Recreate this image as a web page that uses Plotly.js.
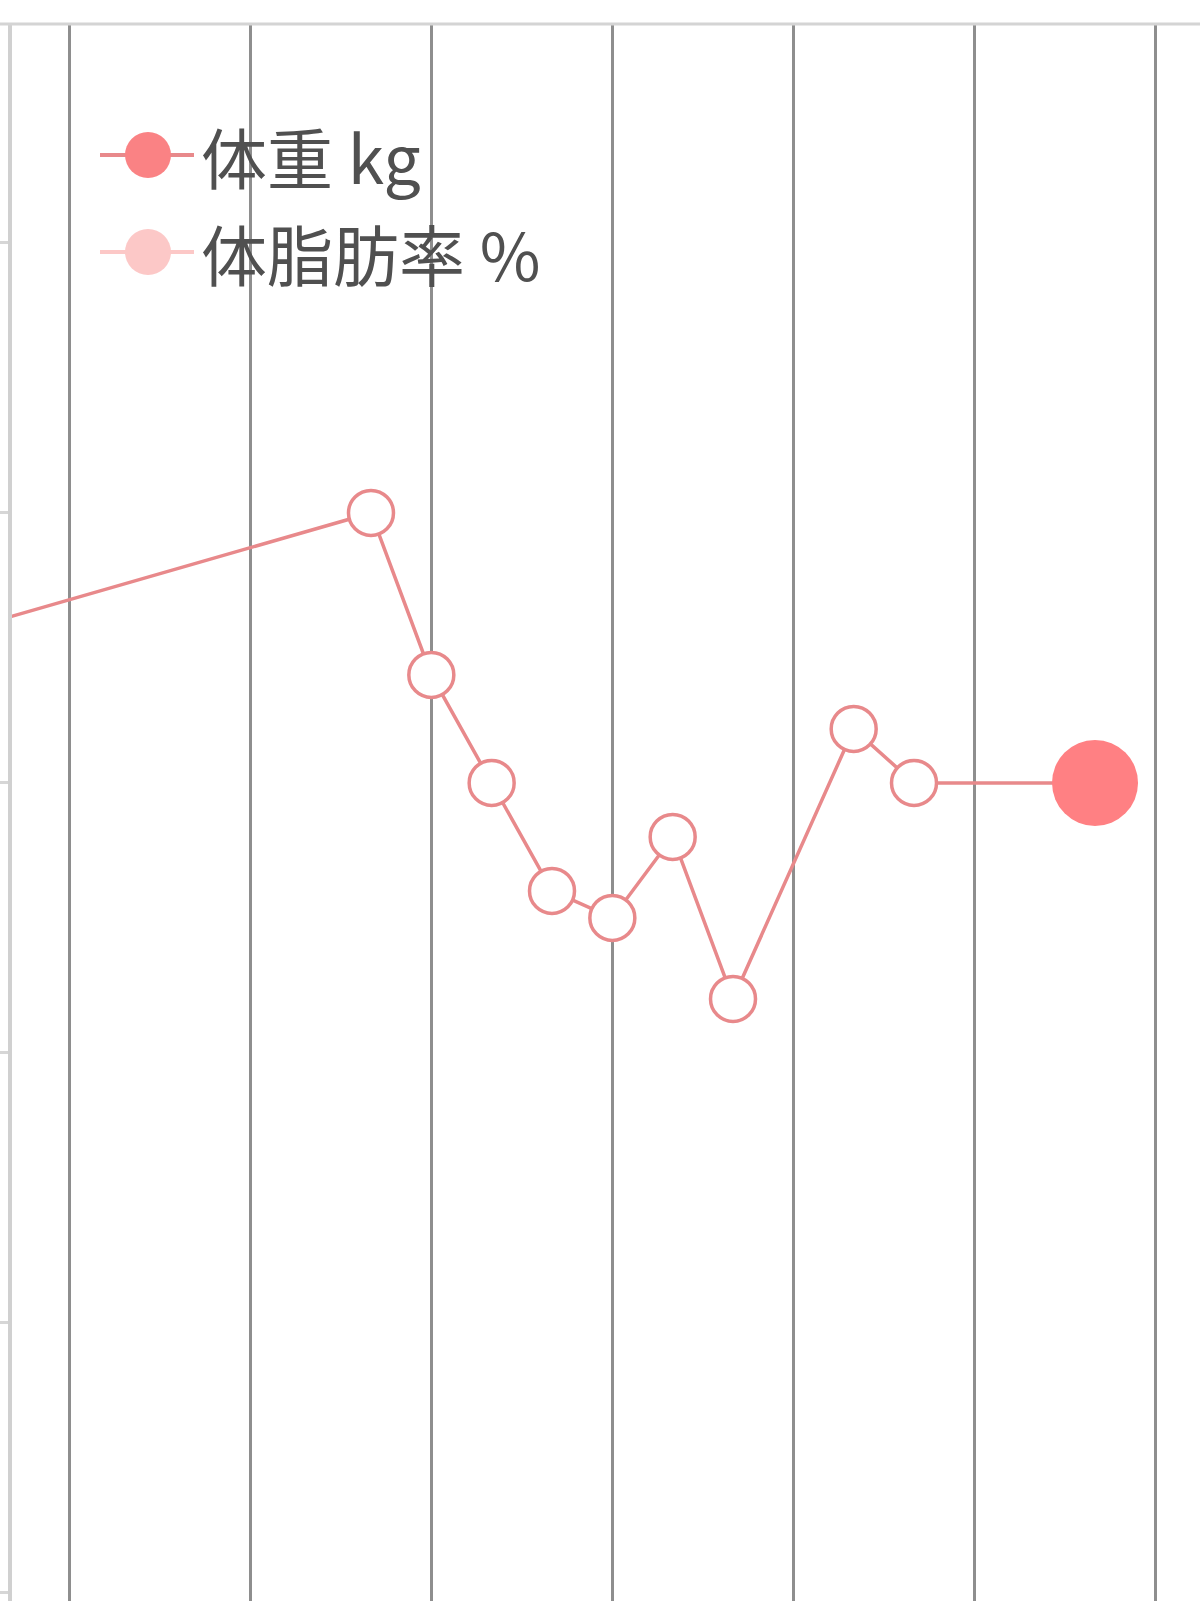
<!DOCTYPE html>
<html>
<head>
<meta charset="utf-8">
<script src="https://cdn.plot.ly/plotly-3.0.1.min.js"></script>
<style>
  html, body { margin: 0; padding: 0; background: #ffffff; }
  #chart { width: 1200px; height: 1601px; }
</style>
</head>
<body>
<div id="chart"></div>
<script>
// ---- data (day index, weight kg) ----
const days = [-2, 5, 6, 7, 8, 9, 10, 11, 13, 14, 17];
const weightKg = [51.55, 52.0, 51.4, 51.0, 50.6, 50.5, 50.8, 50.2, 51.2, 51.0, 51.0];
const fatDays = [];
const fatPct = [];
const seriesNames = ["体重 kg", "体脂肪率 %"];
const seriesColors = ["#fa8284", "#fcc8c7"];
const lineColor = "#e8898b";

const n = days.length;
const markerSizes = days.map((d, i) => i === n - 1 ? 86 : 45);
const markerFill = days.map((d, i) => i === n - 1 ? "#ff8083" : "#ffffff");
const markerLineW = days.map((d, i) => i === n - 1 ? 0 : 3.5);

const traces = [
  {
    x: days, y: weightKg, type: "scatter", mode: "lines+markers",
    name: seriesNames[0], showlegend: false, cliponaxis: true,
    line: { color: lineColor, width: 3.5 },
    marker: { size: markerSizes, color: markerFill, opacity: 1,
              line: { color: lineColor, width: markerLineW } },
    hoverinfo: "skip"
  },
  {
    x: fatDays, y: fatPct, type: "scatter", mode: "lines+markers",
    name: seriesNames[1], showlegend: false,
    line: { color: seriesColors[1], width: 3 }, marker: { color: seriesColors[1] }
  }
];

// plot area: x 12..1200 px, y 24..1601 px
const W = 1200, H = 1601, L = 12, T = 24;
const px2paperX = px => (px - L) / (W - L);
const py2paperY = py => (H - py) / (H - T);

const legendRows = [155, 252];
const shapes = [
  { type: "line", xref: "paper", yref: "paper", x0: px2paperX(0), x1: 1, y0: 1, y1: 1,
    line: { color: "#d4d4d4", width: 3 } }
];
const annotations = [];
legendRows.forEach((py, i) => {
  const yp = py2paperY(py);
  shapes.push({ type: "line", xref: "paper", yref: "paper",
    x0: px2paperX(100), x1: px2paperX(194), y0: yp, y1: yp,
    line: { color: i === 0 ? lineColor : seriesColors[1], width: 4 } });
  shapes.push({ type: "circle", xref: "paper", yref: "paper",
    xsizemode: "pixel", ysizemode: "pixel",
    xanchor: px2paperX(148), yanchor: yp,
    x0: -23, x1: 23, y0: -23, y1: 23,
    fillcolor: seriesColors[i], line: { width: 0 } });
  annotations.push({ xref: "paper", yref: "paper", x: px2paperX(199), y: yp,
    xanchor: "left", yanchor: "middle", showarrow: false,
    text: seriesNames[i],
    font: { family: "Noto Sans CJK JP, Noto Sans, sans-serif", size: 66, color: "#505050" } });
});

const layout = {
  width: W, height: H,
  margin: { l: L, r: 0, t: T, b: 0, pad: 0 },
  paper_bgcolor: "#ffffff", plot_bgcolor: "#ffffff",
  showlegend: false,
  xaxis: {
    range: [-0.95, 18.74], tick0: 0, dtick: 3,
    showgrid: true, gridcolor: "#8e8e8e", gridwidth: 2.5,
    zeroline: false, showticklabels: false, ticks: "", showline: false, fixedrange: true
  },
  yaxis: {
    range: [47.97, 53.811], tick0: 48, dtick: 1,
    showgrid: false, zeroline: false, showticklabels: false,
    ticks: "outside", ticklen: 12, tickwidth: 3, tickcolor: "#d6d6d6",
    showline: true, linecolor: "#d0d0d0", linewidth: 4, fixedrange: true
  },
  shapes: shapes,
  annotations: annotations
};

Plotly.newPlot("chart", traces, layout, { staticPlot: true, displayModeBar: false });
</script>
</body>
</html>
